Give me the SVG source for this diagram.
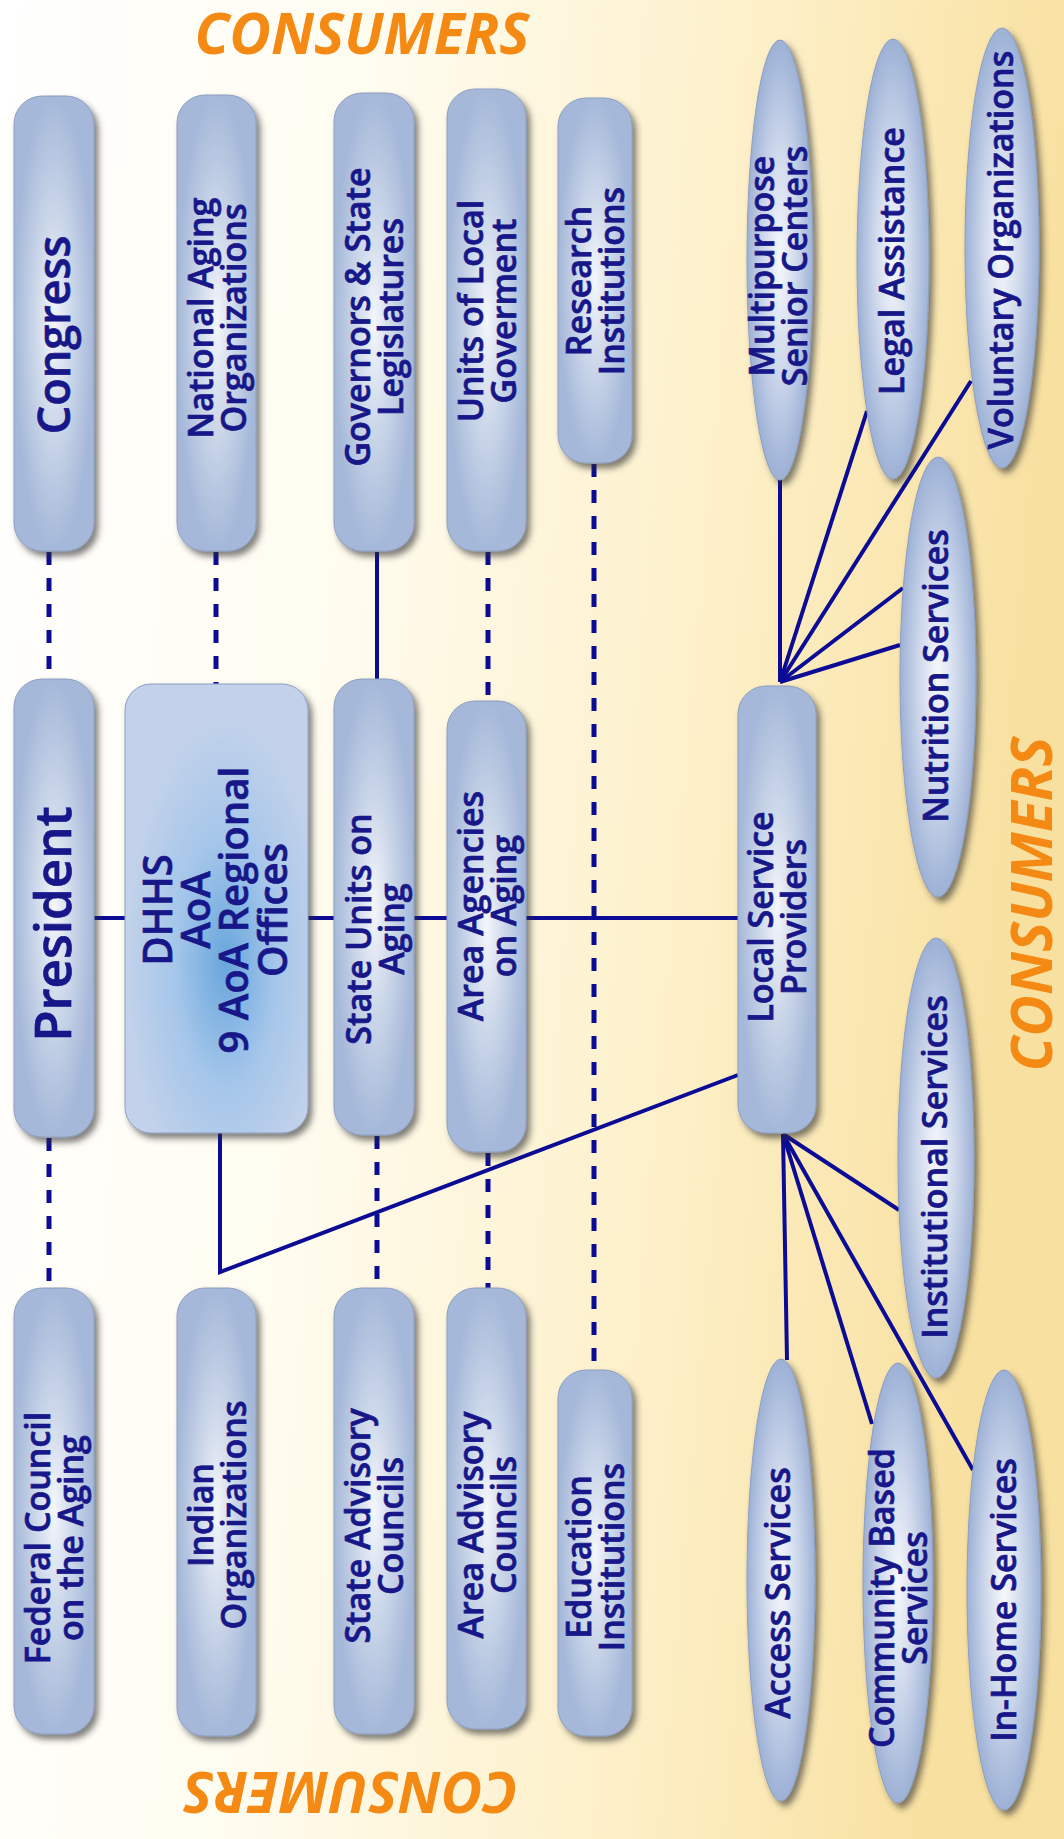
<svg xmlns="http://www.w3.org/2000/svg" width="1064" height="1839" viewBox="0 0 1064 1839">
<defs>
<linearGradient id="bg" x1="0" y1="0" x2="1" y2="0.15">
<stop offset="0" stop-color="#ffffff"/>
<stop offset="0.35" stop-color="#fffcf0"/>
<stop offset="0.7" stop-color="#fdf0c9"/>
<stop offset="1" stop-color="#f8e0a0"/>
</linearGradient>
<radialGradient id="pillGrad" cx="0.5" cy="0.5" r="0.5">
<stop offset="0" stop-color="#f4f6fb"/>
<stop offset="0.45" stop-color="#cdd8ea"/>
<stop offset="1" stop-color="#a5b8d9"/>
</radialGradient>
<radialGradient id="boxGrad" cx="0.55" cy="0.62" r="0.55">
<stop offset="0" stop-color="#68a6dc"/>
<stop offset="0.5" stop-color="#a5c6ea"/>
<stop offset="1" stop-color="#c3d2ea"/>
</radialGradient>
<radialGradient id="ovalGrad" cx="0.5" cy="0.5" r="0.5">
<stop offset="0" stop-color="#f6f8fc"/>
<stop offset="0.5" stop-color="#cfd9ec"/>
<stop offset="1" stop-color="#9db1d6"/>
</radialGradient>
<filter id="shadow" x="-30%" y="-10%" width="160%" height="120%">
<feDropShadow dx="4" dy="5" stdDeviation="3" flood-color="#2a2a2a" flood-opacity="0.6"/>
</filter>
</defs>
<style>
.pill{fill:url(#pillGrad);stroke:#8c9ec2;stroke-width:1;filter:url(#shadow)}
.box{fill:url(#boxGrad);stroke:#8c9ec2;stroke-width:1;filter:url(#shadow)}
.oval{fill:url(#ovalGrad);stroke:#8c9ec2;stroke-width:1;filter:url(#shadow)}
.lbl{font-family:"Open Sans","Liberation Sans",sans-serif;font-weight:600;font-size:34px;fill:#17178a;stroke:#17178a;stroke-width:0.7;text-anchor:middle}
.big{font-size:45px}
.pres{font-size:51px}
.dh{font-size:40px}
.cons{font-family:"Open Sans","Liberation Sans",sans-serif;font-weight:700;font-style:italic;font-size:57px;fill:#f48a14;text-anchor:middle}
.dash{stroke:#0b0b95;stroke-width:5;stroke-dasharray:13 13;fill:none}
.solid{stroke:#0b0b95;stroke-width:4;fill:none;stroke-linejoin:miter}
</style>
<rect x="0" y="0" width="1064" height="1839" fill="url(#bg)"/>

<g id="connectors">
<line class="dash" x1="49" y1="552" x2="49" y2="679"/>
<line class="dash" x1="49" y1="1138" x2="49" y2="1288"/>
<line class="dash" x1="216" y1="552" x2="216" y2="684"/>
<line class="dash" x1="377" y1="1136" x2="377" y2="1288"/>
<line class="dash" x1="488" y1="552" x2="488" y2="701"/>
<line class="dash" x1="488" y1="1153" x2="488" y2="1288"/>
<line class="dash" x1="594" y1="464" x2="594" y2="1370"/>
<line class="solid" x1="377" y1="552" x2="377" y2="679"/>
<line class="solid" x1="94" y1="918" x2="738" y2="918"/>
<polyline class="solid" points="220,1133 220,1272 738,1075"/>
<line class="solid" x1="780" y1="682" x2="780" y2="480"/>
<line class="solid" x1="780" y1="682" x2="867" y2="411"/>
<line class="solid" x1="780" y1="682" x2="971" y2="381"/>
<line class="solid" x1="780" y1="682" x2="903" y2="588"/>
<line class="solid" x1="780" y1="682" x2="900" y2="645"/>
<line class="solid" x1="783" y1="1134" x2="787" y2="1360"/>
<line class="solid" x1="783" y1="1134" x2="872" y2="1424"/>
<line class="solid" x1="783" y1="1134" x2="973" y2="1470"/>
<line class="solid" x1="783" y1="1134" x2="899" y2="1210"/>
</g>

<g id="congress"><rect class="pill" x="14" y="96" width="80" height="455" rx="28"/>
<text class="lbl big" transform="translate(54,335) rotate(-90)" y="16">Congress</text></g>
<g id="president"><rect class="pill" x="14" y="679" width="80" height="458" rx="28"/>
<text class="lbl pres" transform="translate(54,924) rotate(-90)" y="17">President</text></g>
<g id="federal-council"><rect class="pill" x="14" y="1288" width="80" height="446" rx="28"/>
<text class="lbl" transform="translate(54,1538) rotate(-90)"><tspan x="0" y="-4">Federal Council</tspan><tspan x="0" y="29">on the Aging</tspan></text></g>

<g id="national-aging"><rect class="pill" x="177" y="95" width="79" height="456" rx="28"/>
<text class="lbl" transform="translate(216.5,318) rotate(-90)"><tspan x="0" y="-4">National Aging</tspan><tspan x="0" y="29">Organizations</tspan></text></g>
<g id="dhhs"><rect class="box" x="125" y="684" width="183" height="449" rx="26"/>
<text class="lbl dh" transform="translate(216,910) rotate(-90)"><tspan x="0" y="-44">DHHS</tspan><tspan x="0" y="-6">AoA</tspan><tspan x="0" y="32">9 AoA Regional</tspan><tspan x="0" y="71">Offices</tspan></text></g>
<g id="indian"><rect class="pill" x="177" y="1288" width="79" height="448" rx="28"/>
<text class="lbl" transform="translate(216.5,1515) rotate(-90)"><tspan x="0" y="-4">Indian</tspan><tspan x="0" y="29">Organizations</tspan></text></g>

<g id="governors"><rect class="pill" x="334" y="93" width="80" height="458" rx="28"/>
<text class="lbl" transform="translate(374,317) rotate(-90)"><tspan x="0" y="-4">Governors &amp; State</tspan><tspan x="0" y="29">Legislatures</tspan></text></g>
<g id="state-units"><rect class="pill" x="334" y="679" width="80" height="456" rx="28"/>
<text class="lbl" transform="translate(374,929) rotate(-90)"><tspan x="0" y="-3">State Units on</tspan><tspan x="0" y="30">Aging</tspan></text></g>
<g id="state-advisory"><rect class="pill" x="334" y="1288" width="80" height="446" rx="28"/>
<text class="lbl" transform="translate(374,1526) rotate(-90)"><tspan x="0" y="-4">State Advisory</tspan><tspan x="0" y="29">Councils</tspan></text></g>

<g id="units-local"><rect class="pill" x="447" y="89" width="79" height="462" rx="28"/>
<text class="lbl" transform="translate(486.5,311) rotate(-90)"><tspan x="0" y="-4">Units of Local</tspan><tspan x="0" y="29">Goverment</tspan></text></g>
<g id="area-agencies"><rect class="pill" x="447" y="701" width="79" height="451" rx="28"/>
<text class="lbl" transform="translate(486.5,906) rotate(-90)"><tspan x="0" y="-4">Area Agencies</tspan><tspan x="0" y="29">on Aging</tspan></text></g>
<g id="area-advisory"><rect class="pill" x="447" y="1288" width="79" height="441" rx="28"/>
<text class="lbl" transform="translate(486.5,1525) rotate(-90)"><tspan x="0" y="-4">Area Advisory</tspan><tspan x="0" y="29">Councils</tspan></text></g>

<g id="research"><rect class="pill" x="558" y="98" width="74" height="365" rx="28"/>
<text class="lbl" transform="translate(595,281) rotate(-90)"><tspan x="0" y="-4">Research</tspan><tspan x="0" y="29">Institutions</tspan></text></g>
<g id="education"><rect class="pill" x="558" y="1370" width="74" height="366" rx="28"/>
<text class="lbl" transform="translate(595,1557) rotate(-90)"><tspan x="0" y="-4">Education</tspan><tspan x="0" y="29">Institutions</tspan></text></g>

<g id="local-service"><rect class="pill" x="738" y="686" width="78" height="447" rx="28"/>
<text class="lbl" transform="translate(777,917) rotate(-90)"><tspan x="0" y="-4">Local Service</tspan><tspan x="0" y="29">Providers</tspan></text></g>

<g id="multipurpose"><ellipse class="oval" cx="780" cy="260" rx="33" ry="220"/>
<text class="lbl" transform="translate(780,266) rotate(-90)"><tspan x="0" y="-6">Multipurpose</tspan><tspan x="0" y="27">Senior Centers</tspan></text></g>
<g id="legal"><ellipse class="oval" cx="893" cy="259" rx="36" ry="220"/>
<text class="lbl" transform="translate(893,261) rotate(-90)" y="11">Legal Assistance</text></g>
<g id="voluntary"><ellipse class="oval" cx="1002" cy="248" rx="37" ry="220"/>
<text class="lbl" transform="translate(1002,250) rotate(-90)" y="11">Voluntary Organizations</text></g>
<g id="nutrition"><ellipse class="oval" cx="938" cy="677" rx="38" ry="220"/>
<text class="lbl" transform="translate(938,676) rotate(-90)" y="10">Nutrition Services</text></g>
<g id="institutional"><ellipse class="oval" cx="936" cy="1158" rx="38" ry="220"/>
<text class="lbl" transform="translate(936,1167) rotate(-90)" y="11">Institutional Services</text></g>
<g id="access"><ellipse class="oval" cx="781" cy="1580" rx="34" ry="221"/>
<text class="lbl" transform="translate(778,1593) rotate(-90)" y="12">Access Services</text></g>
<g id="community"><ellipse class="oval" cx="898" cy="1583" rx="35" ry="220"/>
<text class="lbl" transform="translate(898,1598) rotate(-90)"><tspan x="0" y="-4">Community Based</tspan><tspan x="0" y="29">Services</tspan></text></g>
<g id="in-home"><ellipse class="oval" cx="1004" cy="1590" rx="37" ry="220"/>
<text class="lbl" transform="translate(1004,1600) rotate(-90)" y="12">In-Home Services</text></g>

<g id="consumers-labels">
<text class="cons" x="362" y="54">CONSUMERS</text>
<text class="cons" transform="translate(1052,904) rotate(-90)">CONSUMERS</text>
<text class="cons" transform="translate(351,1772) rotate(180)">CONSUMERS</text>
</g>
</svg>
